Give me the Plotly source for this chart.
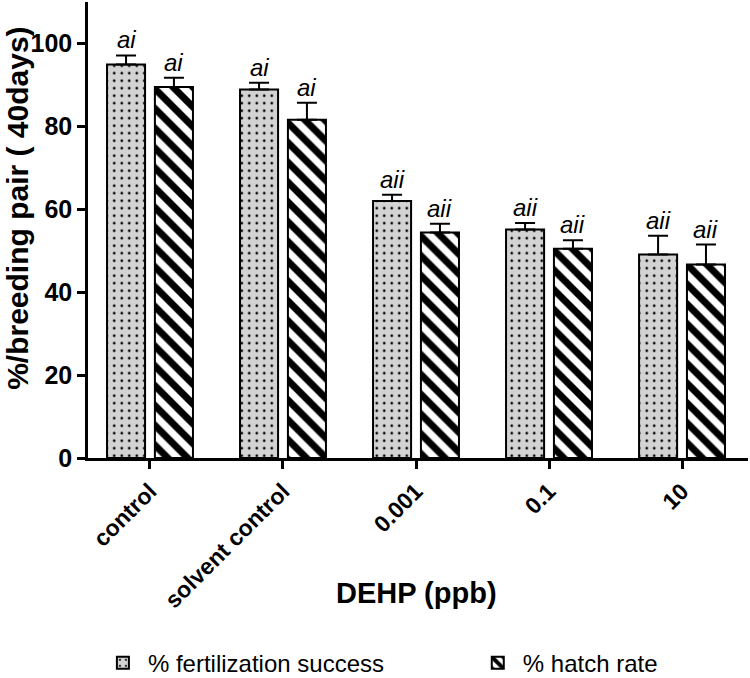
import plotly.graph_objects as go

categories = ["control", "solvent control", "0.001", "0.1", "10"]
fertilization = [94.9, 88.9, 62.0, 55.1, 49.1]
fertilization_err = [2.2, 1.6, 1.5, 1.6, 4.5]
hatch = [89.5, 81.6, 54.4, 50.5, 46.7]
hatch_err = [2.2, 4.1, 2.1, 2.0, 4.8]
fert_labels = ["ai", "ai", "aii", "aii", "aii"]
hatch_labels = ["ai", "ai", "aii", "aii", "aii"]

idx = list(range(len(categories)))
bar_w = 0.286
off_f = -0.323
off_h = 0.037

FONT = "Liberation Sans, Arial, sans-serif"

fig = go.Figure()
fig.add_trace(go.Bar(
    x=idx, y=fertilization, name="% fertilization success", legend="legend",
    width=bar_w, offset=off_f,
    marker=dict(color="#d3d3d3", line=dict(color="black", width=2),
                pattern=dict(shape=".", fgcolor="black", fgopacity=1, size=7.5, solidity=0.1, fillmode="overlay")),
    error_y=dict(type="data", array=fertilization_err, symmetric=False, arrayminus=[0]*5,
                 color="black", thickness=2, width=10),
))
fig.add_trace(go.Bar(
    x=idx, y=hatch, name="% hatch rate", legend="legend2",
    width=bar_w, offset=off_h,
    marker=dict(color="white", line=dict(color="black", width=2),
                pattern=dict(shape="\\", fgcolor="black", fgopacity=1, size=14, solidity=0.5, fillmode="overlay")),
    error_y=dict(type="data", array=hatch_err, symmetric=False, arrayminus=[0]*5,
                 color="black", thickness=2, width=10),
))

annotations = []
for i in idx:
    annotations.append(dict(x=i + off_f + bar_w / 2, y=fertilization[i] + fertilization_err[i],
                            text="<i>%s</i>" % fert_labels[i], showarrow=False, yanchor="bottom",
                            yshift=0, font=dict(family=FONT, size=24, color="black")))
    annotations.append(dict(x=i + off_h + bar_w / 2, y=hatch[i] + hatch_err[i],
                            text="<i>%s</i>" % hatch_labels[i], showarrow=False, yanchor="bottom",
                            yshift=0, font=dict(family=FONT, size=24, color="black")))

annotations.append(dict(x=0.497, y=-0.297, xref="paper", yref="paper", text="<b>DEHP (ppb)</b>",
                        showarrow=False, xanchor="center", yanchor="middle",
                        font=dict(family=FONT, size=29, color="black")))
annotations.append(dict(x=-0.108, y=0.548, xref="paper", yref="paper", text="<b>%/breeding pair ( 40days)</b>",
                        showarrow=False, textangle=-90, xanchor="center", yanchor="middle",
                        font=dict(family=FONT, size=30, color="black")))

legend_common = dict(orientation="h", xanchor="left", y=-0.45, yanchor="middle",
                     font=dict(family=FONT, size=24, color="black"), itemwidth=40,
                     bgcolor="rgba(0,0,0,0)")

fig.update_layout(
    width=750, height=678,
    margin=dict(l=88, r=2, t=2, b=220, autoexpand=False),
    plot_bgcolor="white", paper_bgcolor="white",
    font=dict(family=FONT, color="black"),
    barmode="overlay",
    showlegend=True,
    legend=dict(x=0.015, **legend_common),
    legend2=dict(x=0.583, **legend_common),
    annotations=annotations,
)
fig.update_xaxes(
    range=[-0.466, 4.496], tickvals=idx, ticktext=categories, tickangle=-45,
    showline=True, linecolor="black", linewidth=2.5, ticks="outside", ticklen=8, tickwidth=2.5,
    tickcolor="black", showgrid=False, zeroline=False, automargin=False,
    tickfont=dict(family=FONT, size=23, color="black", weight="bold"),
)
fig.update_yaxes(
    range=[0, 110], tickvals=[0, 20, 40, 60, 80, 100],
    showline=True, linecolor="black", linewidth=2.5, ticks="outside", ticklen=8, tickwidth=2.5,
    tickcolor="black", showgrid=False, zeroline=False, automargin=False,
    tickfont=dict(family=FONT, size=25, color="black", weight="bold"),
)

fig.write_html("out.html", config={"displayModeBar": False},
               post_script="document.body.style.margin='0px';")
